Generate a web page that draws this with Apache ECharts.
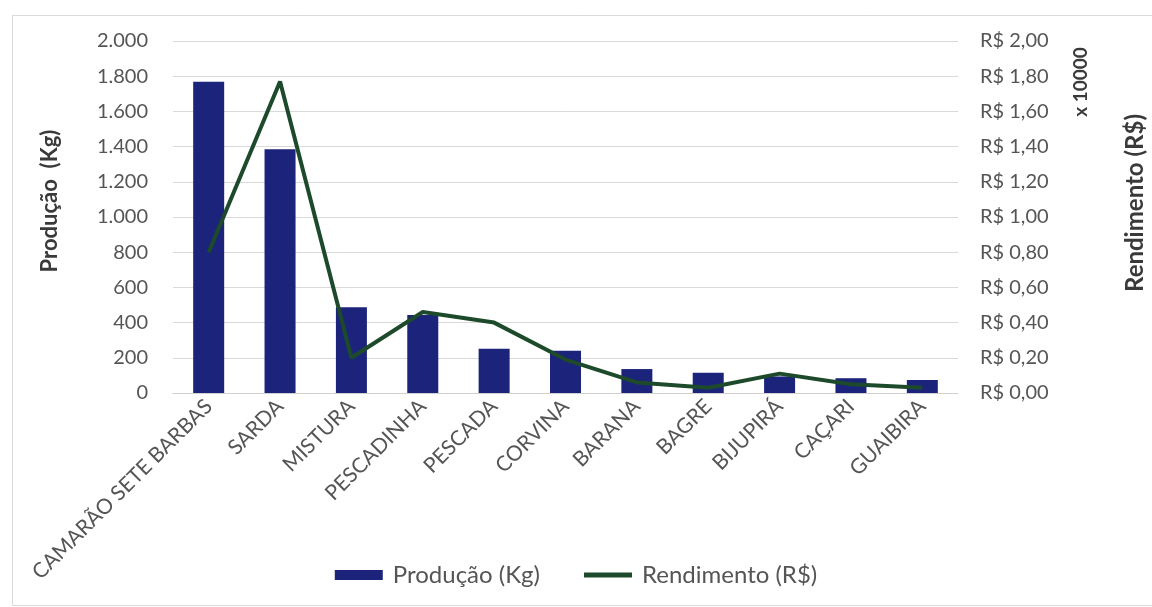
<!DOCTYPE html>
<html>
<head>
<meta charset="utf-8">
<script src="https://cdn.jsdelivr.net/npm/echarts@6/dist/echarts.min.js"></script>
<style>
  html, body { margin: 0; padding: 0; background: #ffffff; }
  #chart { width: 1152px; height: 607px; }
</style>
</head>
<body>
<div id="chart"></div>
<script>
// Species landed and their catch / revenue
const categories = ['CAMARÃO SETE BARBAS', 'SARDA', 'MISTURA', 'PESCADINHA', 'PESCADA', 'CORVINA', 'BARANA', 'BAGRE', 'BIJUPIRÁ', 'CAÇARI', 'GUAIBIRA'];
const producao = [1768, 1385, 487, 443, 252, 240, 136, 115, 94, 84, 74];
const rendimento = [0.80, 1.77, 0.20, 0.46, 0.40, 0.19, 0.06, 0.03, 0.11, 0.05, 0.03];

const leftTicks = { min: 0, max: 2000, interval: 200 };
const rightTicks = { min: 0, max: 2, interval: 0.2 };

const FONT = 'Lato, "Open Sans", sans-serif';
const TEXT = '#555555';
const TITLE = '#3a3a3a';
const BAR = '#1b237a';
const LINE = '#1d4a2a';

const chart = echarts.init(document.getElementById('chart'));

chart.setOption({
  animation: false,
  backgroundColor: '#ffffff',
  textStyle: { fontFamily: FONT },
  grid: { left: 173, right: 194, top: 41, bottom: 214, containLabel: false },
  legend: {
    bottom: 15,
    left: 'center',
    itemWidth: 48,
    itemHeight: 10,
    itemGap: 44,
    textStyle: { fontFamily: FONT, fontSize: 24, color: TEXT, padding: [0, 0, 0, 5] },
    data: [
      { name: 'Produção (Kg)', icon: 'rect' },
      { name: 'Rendimento (R$)', icon: 'path://M0,0 L10,0 L10,1 L0,1 Z' }
    ]
  },
  xAxis: {
    type: 'category',
    data: categories,
    axisTick: { show: false },
    axisLine: { lineStyle: { color: '#d0d0d0', width: 1 } },
    axisLabel: {
      interval: 0,
      rotate: 45,
      margin: 10,
      fontFamily: FONT,
      fontSize: 21,
      color: TEXT
    }
  },
  yAxis: [
    {
      type: 'value',
      min: leftTicks.min,
      max: leftTicks.max,
      interval: leftTicks.interval,
      axisLine: { show: false },
      axisTick: { show: false },
      splitLine: { lineStyle: { color: '#d9d9d9', width: 1 } },
      axisLabel: {
        margin: 25,
        fontFamily: FONT,
        fontSize: 20,
        color: TEXT,
        formatter: v => v.toLocaleString('de-DE')
      }
    },
    {
      type: 'value',
      min: rightTicks.min,
      max: rightTicks.max,
      interval: rightTicks.interval,
      axisLine: { show: false },
      axisTick: { show: false },
      splitLine: { show: false },
      axisLabel: {
        margin: 22,
        fontFamily: FONT,
        fontSize: 20,
        color: TEXT,
        formatter: v => 'R$ ' + v.toFixed(2).replace('.', ',')
      }
    }
  ],
  series: [
    {
      name: 'Produção (Kg)',
      type: 'bar',
      yAxisIndex: 0,
      data: producao,
      barWidth: 31,
      itemStyle: { color: BAR }
    },
    {
      name: 'Rendimento (R$)',
      type: 'line',
      yAxisIndex: 1,
      data: rendimento,
      symbol: 'none',
      lineStyle: { color: LINE, width: 4 },
      itemStyle: { color: LINE }
    }
  ],
  graphic: [
    {
      type: 'rect',
      left: 10, top: 13,
      shape: { width: 1160, height: 590 },
      style: { fill: 'none', stroke: '#d9d9d9', lineWidth: 1 },
      silent: true
    },
    {
      type: 'text',
      x: 50, y: 201,
      rotation: Math.PI / 2,
      style: {
        text: 'Produção  (Kg)',
        fontFamily: FONT, fontSize: 22, fontWeight: 'bold',
        fill: TITLE, align: 'center', verticalAlign: 'middle'
      }
    },
    {
      type: 'text',
      x: 1135, y: 203,
      rotation: Math.PI / 2,
      style: {
        text: 'Rendimento (R$)',
        fontFamily: FONT, fontSize: 24, fontWeight: 'bold',
        fill: TITLE, align: 'center', verticalAlign: 'middle'
      }
    },
    {
      type: 'text',
      x: 1081, y: 82,
      rotation: Math.PI / 2,
      style: {
        text: 'x 10000',
        fontFamily: FONT, fontSize: 19, fontWeight: 'bold',
        fill: TITLE, align: 'center', verticalAlign: 'middle'
      }
    }
  ]
});
</script>
</body>
</html>
